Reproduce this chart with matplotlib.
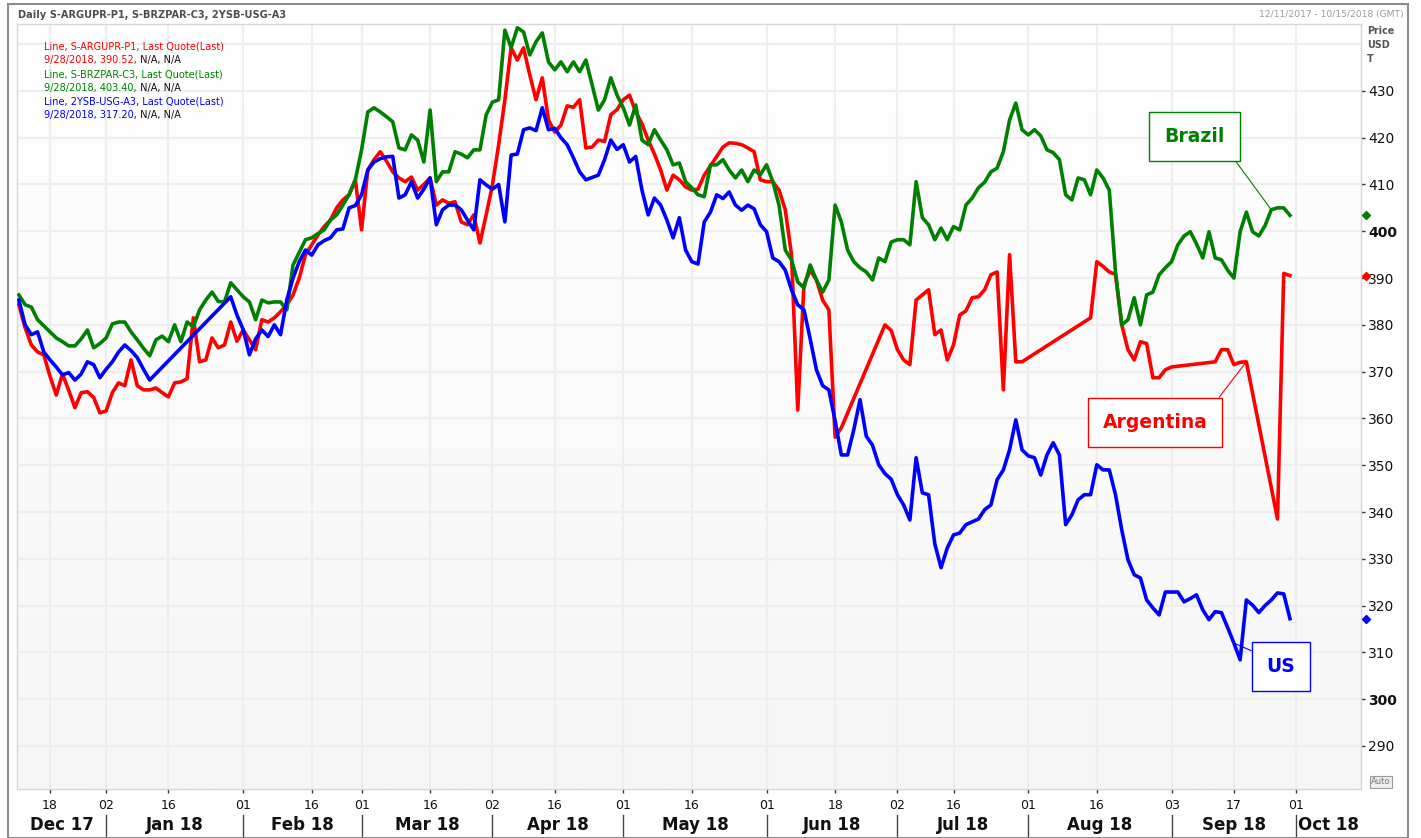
import numpy as np
import pandas as pd
import matplotlib
matplotlib.use('Agg')
import matplotlib.pyplot as plt
from matplotlib.patches import Rectangle
from matplotlib.colors import LinearSegmentedColormap
from matplotlib.transforms import blended_transform_factory

# trading calendar of the chart: weekdays minus the sessions the feed skips
start, end = '2017-12-11', '2018-10-15'
holidays = ['2017-12-25', '2018-01-01', '2018-02-19', '2018-03-30', '2018-07-04']
days = pd.bdate_range(start, end)
days = days[~days.isin(pd.to_datetime(holidays))]

# daily closes from 2017-12-11, one per trading day (None = no quote)
argentina = [
    384.3, 379.4, 375.7, 374.2, 373.6, 369.0, 365.0, 369.5, 366.0, 362.3,
    365.5, 365.7, 364.5, 361.2, 361.6, 365.5, 367.6, 367.0, 372.5, 367.0,
    366.1, 366.1, 366.5, 365.5, 364.6, 367.6, 367.8, 368.5, 381.5, 372.1,
    372.5, 377.2, 375.1, 375.7, 380.6, 376.5, 378.9, 376.8, 374.7, 381.1,
    380.6, 381.5, 382.8, 384.3, 386.4, 390.0, 395.0, 397.1, 399.2, 401.0,
    402.4, 405.0, 406.7, 407.8, 411.0, 400.3, 413.1, 415.3, 417.0, 415.0,
    412.7, 411.4, 410.6, 411.6, 408.8, 410.0, 411.4, 405.6, 406.7, 406.0,
    406.3, 402.0, 401.4, 403.5, 397.5, 403.5, 409.9, 418.5, 428.1, 439.2,
    436.6, 439.2, 433.4, 428.1, 432.8, 423.8, 421.2, 422.7, 426.8, 426.5,
    428.1, 417.8, 418.0, 419.5, 419.2, 424.9, 426.0, 428.1, 429.1, 425.5,
    423.0, 419.5, 416.5, 413.1, 408.8, 412.0, 411.0, 409.5, 408.8, 409.0,
    412.0, 414.0, 416.0, 418.0, 418.9, 418.8, 418.5, 417.8, 417.0, 411.0,
    410.6, 410.6, 408.8, 404.6, 395.0, 361.8, 388.6, 391.7, 389.6, 385.3,
    383.2, 356.0, 358.0, None, None, None, None, None, None, 380.0,
    378.8, 374.7, 372.5, 371.5, 385.3, 386.4, 387.5, 377.9, 378.9, 372.5,
    375.7, 382.1, 383.0, 385.8, 386.0, 387.5, 390.7, 391.3, 366.1, 395.0,
    372.1, 372.1, None, None, None, None, None, None, None, None,
    None, None, 381.5, 393.5, 392.5, 391.3, 390.8, 380.0, 374.7, 372.5,
    376.4, 376.0, 368.7, 368.7, 370.4, 371.0, None, None, None, None,
    None, None, 372.1, 374.7, 374.7, 371.5, 372.0, 372.1, None, None,
    None, None, 338.5, 391.0, 390.52,
]
brazil = [
    386.4, 384.3, 383.8, 381.1, 379.8, 378.5, 377.2, 376.4, 375.5, 375.5,
    377.0, 378.9, 375.1, 376.0, 377.2, 380.2, 380.6, 380.6, 378.5, 376.8,
    375.0, 373.4, 376.8, 377.6, 376.4, 380.0, 376.4, 380.6, 379.6, 383.2,
    385.3, 387.0, 385.0, 384.9, 389.0, 387.5, 386.0, 384.9, 381.1, 385.3,
    384.7, 384.9, 384.9, 383.2, 392.8, 395.5, 398.2, 398.6, 399.5, 400.3,
    402.4, 403.5, 405.6, 407.8, 411.0, 417.4, 425.5, 426.4, 425.5, 424.5,
    423.4, 417.8, 417.4, 420.6, 419.5, 414.8, 425.9, 410.6, 412.7, 412.7,
    417.0, 416.5, 415.7, 417.4, 417.4, 424.9, 427.6, 428.1, 443.0, 439.2,
    443.5, 442.6, 437.7, 440.5, 442.4, 436.2, 434.5, 436.2, 434.1, 436.2,
    434.1, 436.6, 431.3, 425.9, 428.1, 432.8, 429.1, 426.4, 422.7, 427.0,
    419.5, 418.5, 421.7, 419.5, 417.4, 414.2, 414.6, 410.6, 409.3, 407.8,
    407.4, 414.2, 414.2, 415.3, 413.1, 411.4, 413.1, 410.6, 413.1, 412.1,
    414.2, 410.6, 405.6, 396.0, 393.9, 389.2, 387.9, 392.8, 389.6, 387.0,
    389.6, 405.6, 402.0, 396.0, 393.5, 392.2, 391.3, 389.6, 394.3, 393.5,
    397.7, 398.2, 398.2, 397.1, 410.6, 402.9, 401.4, 398.2, 400.7, 398.2,
    401.0, 400.3, 405.6, 407.1, 409.3, 410.5, 412.7, 413.5, 417.0, 423.8,
    427.4, 421.7, 420.6, 421.7, 420.4, 417.4, 416.8, 415.3, 407.8, 406.7,
    411.4, 411.0, 407.8, 413.1, 411.4, 408.8, 391.3, 380.0, 381.1, 385.8,
    380.0, 386.4, 387.0, 390.7, 392.2, 393.5, 397.1, 399.0, 399.9, 397.3,
    394.3, 399.9, 394.3, 393.9, 391.7, 390.0, 399.9, 404.1, 399.9, 399.0,
    401.2, 404.6, 405.0, 405.0, 403.4,
]
us = [
    385.3, 380.0, 377.9, 378.5, 374.2, 372.5, 371.0, 369.3, 369.8, 368.2,
    369.5, 372.1, 371.5, 368.7, 370.5, 372.1, 374.2, 375.7, 374.5, 373.0,
    370.5, 368.2, None, None, None, None, None, None, None, None,
    None, None, None, None, 386.0, 382.1, 379.0, 373.6, 377.0, 378.9,
    377.5, 380.0, 377.9, 385.3, 390.0, 393.5, 396.0, 394.9, 397.1, 398.0,
    398.6, 400.3, 400.5, 405.0, 405.5, 407.8, 413.1, 414.8, 415.5, 415.9,
    416.0, 407.1, 407.8, 410.6, 407.1, 409.0, 411.4, 401.4, 404.6, 405.6,
    405.6, 404.6, 402.4, 400.3, 411.0, 409.9, 409.0, 410.0, 402.0, 416.3,
    416.5, 421.7, 422.1, 421.5, 426.4, 421.7, 422.0, 420.0, 418.5, 415.7,
    412.7, 411.0, 411.5, 412.0, 415.3, 419.5, 417.5, 418.5, 414.8, 416.0,
    408.8, 403.5, 407.1, 405.6, 402.4, 398.6, 402.9, 396.0, 393.5, 393.0,
    402.0, 404.1, 407.8, 407.0, 408.4, 405.6, 404.5, 405.6, 404.8, 401.4,
    399.9, 394.3, 393.5, 391.7, 387.5, 384.3, 383.2, 377.0, 370.4, 367.0,
    366.1, 359.5, 352.2, 352.2, 357.6, 364.0, 356.2, 354.3, 350.1, 348.2,
    347.0, 343.7, 341.5, 338.3, 351.6, 344.1, 343.7, 333.2, 328.1, 332.3,
    335.1, 335.5, 337.3, 337.9, 338.5, 340.5, 341.5, 346.9, 349.0, 353.3,
    359.7, 353.3, 352.0, 351.6, 347.9, 352.2, 354.8, 352.2, 337.3, 339.4,
    342.6, 343.7, 343.7, 350.1, 349.0, 349.0, 343.7, 336.2, 329.8, 326.6,
    325.9, 321.2, 319.5, 318.0, 322.9, 322.9, 322.9, 320.8, 321.5, 322.3,
    319.1, 317.0, 318.7, 318.5, 315.3, 312.0, 308.4, 321.2, 320.1, 318.5,
    320.0, 321.2, 322.7, 322.5, 317.2,
]

codes = ['S-ARGUPR-P1', 'S-BRZPAR-C3', '2YSB-USG-A3']
names = ['Argentina', 'Brazil', 'US']
colors = ['#ff0000', '#008000', '#0000ff']
series = [argentina, brazil, us]
last_date = '9/28/2018'
y_ticks = list(range(290, 431, 10))
bold_ticks = [300, 400]

W, H = 1421, 838
fig = plt.figure(figsize=(W / 100, H / 100), dpi=100)
ax = fig.add_axes([17 / W, 1 - 789 / H, 1344 / W, 765 / H])
bx = blended_transform_factory(ax.transData, ax.transAxes)
by = blended_transform_factory(ax.transAxes, ax.transData)

# soft white-to-grey background of the plot area
grad = LinearSegmentedColormap.from_list('bg', ['#f6f6f6', '#ffffff'])
ax.imshow(np.linspace(0, 1, 256).reshape(-1, 1), cmap=grad, aspect='auto',
          extent=[0, 1, 0, 1], transform=ax.transAxes, zorder=0, origin='lower')

for vals, c in zip(series, colors):
    y = np.array([np.nan if v is None else v for v in vals], float)
    x = np.arange(len(y))
    ok = ~np.isnan(y)
    ax.plot(x[ok], y[ok], color=c, lw=2.6, solid_joinstyle='round', zorder=3)
    ax.plot(1.0037, y[ok][-1], transform=by, marker='D', ms=4.2, color=c,
            clip_on=False, zorder=5)

x0, x1 = -0.3, len(days) - 0.6
ax.set_xlim(x0, x1)
ax.set_ylim(280.8, 444.3)

# half-month ticks on the first session on/after the 1st and the 16th
months = pd.period_range(start[:7], end[:7], freq='M')
xt, xl = [], []
for m in months:
    for d in (1, 16):
        t = pd.Timestamp(m.year, m.month, d)
        if t < days[0] or t > days[-1]:
            continue
        i = days.searchsorted(t)
        xt.append(i)
        xl.append(days[i].strftime('%d'))
ax.set_xticks(xt)
ax.set_xticklabels(xl)

# month names under the day numbers, with separators
firsts = [days.searchsorted(pd.Timestamp(m.year, m.month, 1)) for m in months[1:]]
bounds = [x0] + firsts + [x1]
for k, m in enumerate(months):
    ax.text((bounds[k] + bounds[k + 1]) / 2, -0.047, m.strftime('%b %y'),
            transform=bx, ha='center', va='center', fontsize=12,
            fontweight='bold', color='#111111')
for f in firsts:
    ax.plot([f, f], [-0.034, -0.062], transform=bx, color='#444444', lw=1,
            clip_on=False)

ax.yaxis.tick_right()
ax.set_yticks(y_ticks)
ax.set_yticklabels([str(v) for v in y_ticks])
for lab, v in zip(ax.get_yticklabels(), y_ticks):
    if v in bold_ticks:
        lab.set_fontweight('bold')
ax.axhline(440, color='#eeeeee', lw=1.6, zorder=0.5)

ax.grid(True, color='#eeeeee', lw=1.6)
ax.set_axisbelow(True)
for s in ax.spines.values():
    s.set_color('#d6d6d6')
    s.set_linewidth(1)
ax.tick_params(axis='y', length=3, width=1, pad=2, labelsize=10,
               color='#333333', labelcolor='#111111')
ax.tick_params(axis='x', length=3, width=1, pad=4, labelsize=9,
               color='#333333', labelcolor='#111111')

# header texts
fig.text(18 / W, 1 - 15 / H, 'Daily ' + ', '.join(codes), fontsize=7.1,
         fontweight='bold', color='#4d4d4d', va='center')
fig.text(1404 / W, 1 - 14 / H, '12/11/2017 - 10/15/2018 (GMT)', fontsize=6.6,
         color='#9a9a9a', va='center', ha='right')
for k, word in enumerate(['Price', 'USD', 'T']):
    fig.text(1367 / W, 1 - (31 + 14 * k) / H, word, fontsize=6.9,
             fontweight='bold', color='#555555', va='center')
fig.text(1381 / W, 1 - 782 / H, 'Auto', fontsize=6, color='#777777',
         ha='center', va='center',
         bbox=dict(boxstyle='square,pad=0.15', fc='#eeeeee', ec='#999999', lw=0.8))

# quote legend, top left
yy = 46.7
for code, vals, c in zip(codes, series, colors):
    last = [v for v in vals if v is not None][-1]
    fig.text(44 / W, 1 - yy / H, f'Line, {code}, Last Quote(Last)', fontsize=7,
             color=c, va='center')
    t1 = fig.text(44 / W, 1 - (yy + 13.7) / H, f'{last_date}, {last:.2f},',
                  fontsize=7, color=c, va='center')
    ax.annotate(' N/A, N/A', xy=(1, 0.5), xycoords=t1, va='center',
                fontsize=7, color='#111111', annotation_clip=False)
    yy += 27.4

# callout boxes
callouts = [
    ('Argentina', 0, 197, (0.8467, 0.4797), (1, 1)),
    ('Brazil', 1, 201, (0.876, 0.853), (1, 0)),
    ('US', 2, 195, (0.9405, 0.1595), (0, 1)),
]
for name, k, i, pos, rel in callouts:
    c = colors[k]
    ax.annotate(name, xy=(i, series[k][i]), xytext=pos, textcoords='axes fraction',
                ha='center', va='center', fontsize=13.5, fontweight='bold', color=c,
                bbox=dict(boxstyle='square,pad=0.8', fc='white', ec=c, lw=1),
                arrowprops=dict(arrowstyle='-', color=c, lw=0.8, relpos=rel,
                                shrinkA=0, shrinkB=0), zorder=6)

fig.patches.append(Rectangle((8 / W, 0.5 / H), 1400 / W, 833.5 / H,
                             transform=fig.transFigure, fill=False,
                             ec='#8c8c8c', lw=1.5))

fig.savefig('out.png', dpi=100)
